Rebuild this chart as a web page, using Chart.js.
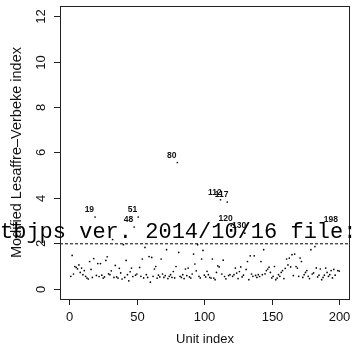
<!DOCTYPE html>
<html>
<head>
<meta charset="utf-8">
<script src="https://cdn.jsdelivr.net/npm/chart.js@4"></script>
<style>
  html, body { margin: 0; padding: 0; background: #fff; }
  canvas { display: block; }
</style>
</head>
<body>
<canvas id="grafico" width="354" height="352"></canvas>
<script>
// Modified Lesaffre-Verbeke index per unit (units 1..200)
const lvIndex = [
  0.55, 1.47, 0.65, 0.98, 0.94, 0.88, 1.05, 0.72, 0.91, 0.62,
  0.80, 0.55, 0.47, 0.43, 1.20, 0.85, 0.50, 1.33, 3.16, 0.59,
  1.11, 0.54, 1.11, 0.60, 0.47, 0.52, 1.25, 1.41, 0.66, 0.62,
  0.79, 2.17, 0.50, 1.03, 0.52, 0.47, 0.90, 0.70, 0.43, 1.94,
  0.50, 1.25, 0.62, 0.35, 0.75, 0.91, 0.54, 2.72, 0.60, 0.65,
  3.16, 0.94, 0.55, 1.31, 0.48, 1.82, 0.62, 0.50, 1.42, 0.29,
  1.38, 0.55, 0.87, 0.98, 0.47, 0.60, 0.52, 1.31, 0.65, 0.50,
  0.58, 1.72, 0.45, 0.55, 0.62, 0.50, 0.76, 0.48, 0.98, 5.56,
  1.60, 0.55, 0.50, 0.62, 0.45, 0.87, 0.58, 0.91, 0.52, 0.47,
  0.65, 1.53, 1.09, 0.79, 1.94, 0.55, 0.48, 1.31, 1.69, 0.60,
  0.52, 0.77, 0.62, 0.50, 0.47, 1.31, 0.47, 0.40, 0.72, 1.01,
  0.96, 3.92, 0.65, 1.26, 0.54, 0.44, 3.82, 0.58, 0.62, 2.78,
  0.55, 0.62, 0.91, 0.69, 0.45, 0.76, 0.96, 0.52, 0.60, 2.45,
  0.85, 1.20, 0.40, 1.45, 0.65, 0.55, 1.45, 0.59, 0.50, 0.62,
  0.54, 1.20, 0.62, 1.72, 0.66, 0.80, 0.87, 0.95, 0.72, 0.48,
  0.55, 0.98, 0.40, 0.47, 0.62, 0.55, 0.72, 0.80, 0.45, 0.90,
  1.31, 1.05, 1.35, 0.96, 1.50, 0.58, 1.53, 0.98, 0.91, 0.55,
  1.35, 1.20, 0.50, 0.62, 0.72, 0.80, 0.55, 0.45, 1.72, 0.65,
  0.70, 1.86, 0.92, 0.52, 0.60, 0.87, 0.40, 0.50, 0.60, 0.91,
  0.72, 0.55, 0.62, 0.80, 0.48, 0.85, 0.60, 2.73, 0.80, 0.78
];
const unidadesMarcadas = [19, 48, 51, 80, 112, 117, 120, 130, 198];
const limiar = 1.98;
const xTicks = [0, 50, 100, 150, 200];
const yTicks = [0, 2, 4, 6, 8, 10, 12];
const tituloX = 'Unit index';
const tituloY = 'Modified Lesaffre\u2013Verbeke index';
const marcaDagua = 'tbjps ver. 2014/10/16 file:';

const pontos = lvIndex.map((v, i) => ({ x: i + 1, y: v }));

const eixosR = {
    id: 'eixosR',
    beforeDraw(chart) {
        const c = chart.ctx;
        c.save();
        c.fillStyle = '#fff';
        c.fillRect(0, 0, chart.width, chart.height);
        c.restore();
    },
    afterDatasetsDraw(chart) {
        const c = chart.ctx, a = chart.chartArea;
        const sx = chart.scales.x, sy = chart.scales.y;
        c.save();
        c.strokeStyle = '#222';
        c.lineWidth = 1;
        c.strokeRect(a.left + 0.5, a.top + 0.5, a.right - a.left - 1, a.bottom - a.top);
        c.fillStyle = '#111';
        c.font = '13px "Liberation Sans", Arial, sans-serif';
        c.textAlign = 'center';
        c.textBaseline = 'middle';
        xTicks.forEach(t => {
            const px = Math.round(sx.getPixelForValue(t)) + 0.5;
            c.beginPath(); c.moveTo(px, a.bottom); c.lineTo(px, a.bottom + 6); c.stroke();
            c.fillText(String(t), px, 317);
        });
        yTicks.forEach(t => {
            const py = Math.round(sy.getPixelForValue(t)) + 0.5;
            c.beginPath(); c.moveTo(a.left, py); c.lineTo(a.left - 6, py); c.stroke();
            c.save(); c.translate(41, py); c.rotate(-Math.PI / 2);
            c.fillText(String(t), 0, 0); c.restore();
        });
        c.fillText(tituloX, (a.left + a.right) / 2, 339);
        c.font = '14.5px "Liberation Sans", Arial, sans-serif';
        c.save(); c.translate(17, (a.top + a.bottom) / 2); c.rotate(-Math.PI / 2);
        c.fillText(tituloY, 0, 0); c.restore();

        // rotulos dos pontos acima do limiar
        const meta = chart.getDatasetMeta(0);
        c.font = 'bold 8.5px "Liberation Sans", Arial, sans-serif';
        unidadesMarcadas.forEach(u => {
            const el = meta.data[u - 1];
            c.fillText(String(u), el.x - 5.7, el.y - 7);
        });
        c.restore();
    },
    afterDraw(chart) {
        const c = chart.ctx;
        c.save();
        c.fillStyle = '#000';
        c.font = '22px "Liberation Mono", "Courier New", monospace';
        c.textAlign = 'left';
        c.textBaseline = 'alphabetic';
        c.fillText(marcaDagua, 0, 238);
        c.restore();
    }
};

new Chart(document.getElementById('grafico').getContext('2d'), {
    type: 'scatter',
    data: {
        datasets: [
            { data: pontos, backgroundColor: '#000', borderColor: '#000', pointRadius: 0.85, borderWidth: 0 },
            { data: [{ x: -7, y: limiar }, { x: 208, y: limiar }], showLine: true, borderColor: '#000',
              borderWidth: 1, borderDash: [3, 2], pointRadius: 0 }
        ]
    },
    options: {
        responsive: false,
        devicePixelRatio: 1,
        animation: false,
        layout: { padding: { left: 60, top: 6, right: 1, bottom: 53 } },
        scales: {
            x: { type: 'linear', min: -7, max: 208, display: false },
            y: { type: 'linear', min: -0.45, max: 12.45, display: false }
        },
        plugins: { legend: { display: false }, tooltip: { enabled: false } }
    },
    plugins: [eixosR]
});
</script>
</body>
</html>
